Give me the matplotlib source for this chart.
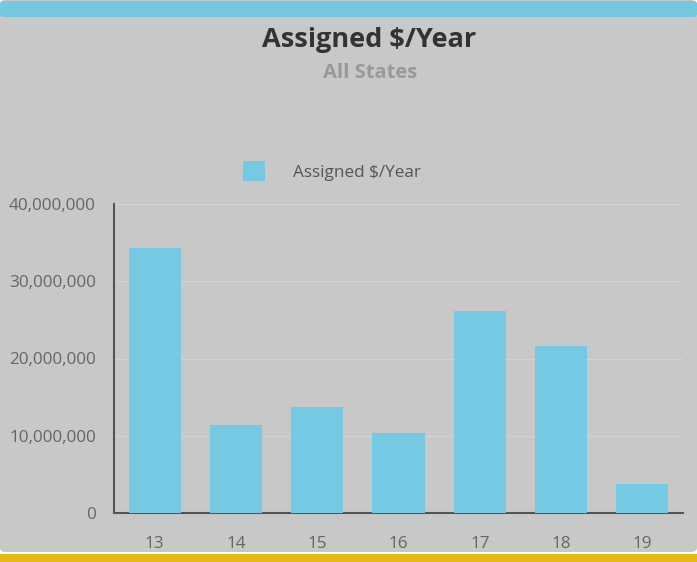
import matplotlib
matplotlib.use("Agg")
import matplotlib.pyplot as plt
from matplotlib.patches import FancyBboxPatch, Rectangle
from matplotlib.ticker import FuncFormatter

categories = ["13", "14", "15", "16", "17", "18", "19"]
assigned = [34300000, 11400000, 13700000, 10400000, 26100000, 21600000, 3750000]
yticks = [0, 10000000, 20000000, 30000000, 40000000]

BG = "#c8c8c8"
BAR = "#76c9e2"
plt.rcParams["font.family"] = ["Open Sans", "DejaVu Sans"]

fig = plt.figure(figsize=(6.97, 5.62), dpi=100)
fig.patch.set_facecolor("white")

W, H = 697, 562
# panel background, top accent and bottom strip
fig.patches.append(FancyBboxPatch((0, 10 / H), 1, 1 - 10 / H, transform=fig.transFigure,
                                  boxstyle="round,pad=0,rounding_size=0.008",
                                  facecolor=BG, edgecolor="none", zorder=0))
fig.patches.append(FancyBboxPatch((0, 1 - 17 / H), 1, 16 / H, transform=fig.transFigure,
                                  boxstyle="round,pad=0,rounding_size=0.006",
                                  facecolor="#74c8e0", edgecolor="none", zorder=1))
fig.patches.append(Rectangle((0, 0), 1, 8 / H, transform=fig.transFigure,
                             facecolor="#e5b817", edgecolor="none", zorder=1))

ax = fig.add_axes([114 / W, 1 - 513 / H, (683 - 114) / W, (513 - 204) / H])
ax.set_zorder(5)
ax.set_facecolor(BG)
x = list(range(len(categories)))
ax.bar(x, assigned, width=0.64, color=BAR, zorder=3, label="Assigned $/Year")
ax.set_xlim(-0.5, len(categories) - 0.5)
ax.set_ylim(0, 40000000)
ax.set_yticks(yticks)
ax.yaxis.set_major_formatter(FuncFormatter(lambda v, p: f"{int(v):,}"))
ax.set_xticks(x)
ax.set_xticklabels(categories)
ax.grid(axis="y", color="#d2d2d2", linewidth=1, zorder=0)
for s in ("top", "right"):
    ax.spines[s].set_visible(False)
for s in ("left", "bottom"):
    ax.spines[s].set_color("#555555")
    ax.spines[s].set_linewidth(1.5)
ax.tick_params(length=0, colors="#666666", labelsize=12.3)
ax.tick_params(axis="y", pad=13)
ax.tick_params(axis="x", pad=16.5)

fig.text(369 / W, 1 - 40 / H, "Assigned $/Year", ha="center", va="center",
         fontsize=19.5, fontweight="bold", color="#333333")
fig.text(370 / W, 1 - 73 / H, "All States", ha="center", va="center",
         fontsize=14.5, fontweight="bold", color="#999999")

leg = fig.legend(loc="center", bbox_to_anchor=(332 / W, 1 - 171 / H), frameon=False,
                 fontsize=12.3, labelcolor="#555555", handlelength=1.3, handleheight=1.4,
                 handletextpad=1.6)
leg.set_zorder(6)

fig.savefig("out.png", dpi=100, facecolor=fig.get_facecolor())
